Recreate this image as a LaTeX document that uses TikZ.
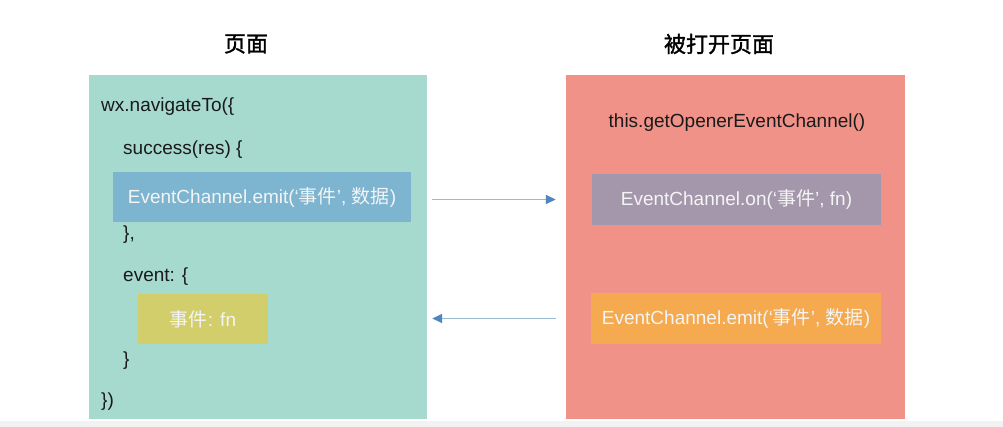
\documentclass[tikz,border=0pt]{standalone}
\usepackage{fontspec}
\setmainfont{Liberation Sans}
\newfontfamily\cjkfont{Noto Sans CJK SC}
\newfontfamily\cjktitle[FakeBold=1.5]{Noto Sans CJK SC}
\newcommand{\zh}[1]{{\cjkfont #1}}
\usetikzlibrary{arrows.meta}
\definecolor{tealpanel}{HTML}{A6DACF}
\definecolor{salmonpanel}{HTML}{F09288}
\definecolor{blueBox}{HTML}{7DB4D0}
\definecolor{purpleBox}{HTML}{A597AB}
\definecolor{orangeBox}{HTML}{F5AA4F}
\definecolor{yellowBox}{HTML}{D3CE6C}
\definecolor{codeText}{HTML}{1A1A1A}
\definecolor{boxText}{HTML}{F4F4F4}
\definecolor{arrowLine}{HTML}{9BBBD3}
\definecolor{arrowHead}{HTML}{4F86C0}
\tikzset{
  panel/.style={draw=none, inner sep=0pt},
  codeline/.style={anchor=west, inner sep=0pt, text=codeText, font=\fontsize{19}{22}\selectfont},
  callbox/.style={inner sep=0pt, text=boxText, font=\fontsize{19}{22}\selectfont},
  title/.style={inner sep=0pt, text=black, font=\cjktitle\fontsize{22}{26}\selectfont},
  flow/.style={draw=arrowLine, line width=1.5pt, -{Triangle[length=10pt,width=9pt,color=arrowHead]}},
}
\begin{document}
\begin{tikzpicture}[x=1pt,y=-1pt]
\useasboundingbox (0,0) rectangle (1003,427);
\fill[white] (0,0) rectangle (1003,427);
\fill[black!5] (0,421) rectangle (1003,427);
% titles
\node[title] (t1) at (246,44) {页面};
\node[title] (t2) at (719,44) {被打开页面};
% panels
\node[panel, fill=tealpanel, minimum width=338, minimum height=344] (left) at (258,247) {};
\node[panel, fill=salmonpanel, minimum width=339, minimum height=344] (right) at (735.5,247) {};
% left code
\node[codeline] (l1) at (101,107) {wx.navigateTo(\{};
\node[codeline] (l2) at (123,150) {success(res) \{};
\node[callbox, fill=blueBox, minimum width=298, minimum height=50] (emit1) at (262,197) {EventChannel.emit(‘\zh{事件}’, \zh{数据})};
\node[codeline] (l3) at (123,235) {\},};
\node[codeline] (l4) at (123,277) {event: \{};
\node[callbox, fill=yellowBox, minimum width=130, minimum height=50] (handler) at (203,319) {\zh{事件}: fn};
\node[codeline] (l5) at (123,361) {\}};
\node[codeline] (l6) at (101,402) {\})};
% right code
\node[inner sep=0pt, text=codeText, font=\fontsize{19}{22}\selectfont] (r1) at (737,123) {this.getOpenerEventChannel()};
\node[callbox, fill=purpleBox, minimum width=289, minimum height=51] (on) at (736.5,199.5) {EventChannel.on(‘\zh{事件}’, fn)};
\node[callbox, fill=orangeBox, minimum width=290, minimum height=51] (emit2) at (736,318.5) {EventChannel.emit(‘\zh{事件}’, \zh{数据})};
% arrows
\draw[flow, shorten <=5pt, shorten >=10pt] (left.east |- on) -- (right.west |- on);
\draw[flow, shorten <=10pt, shorten >=5pt] (right.west |- emit2) -- (left.east |- emit2);
\end{tikzpicture}
\end{document}
